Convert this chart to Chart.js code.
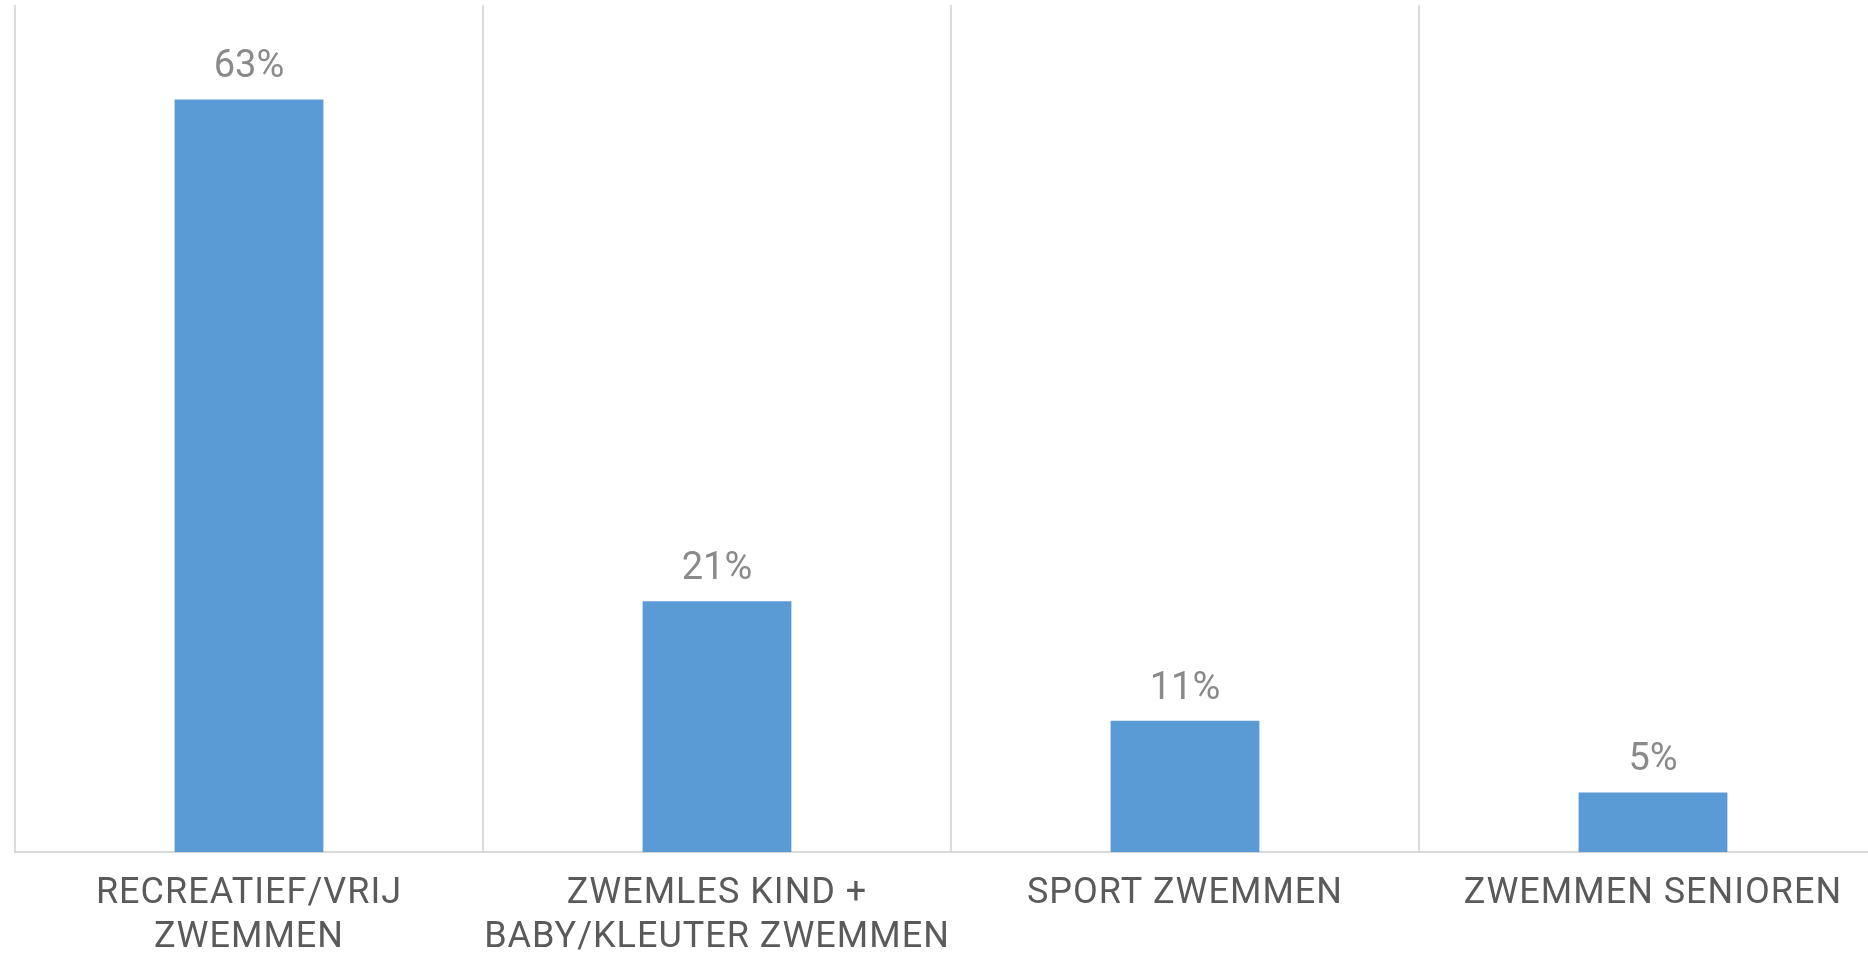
<!DOCTYPE html>
<html>
<head>
<meta charset="utf-8">
<script src="https://cdn.jsdelivr.net/npm/chart.js@4.4.1/dist/chart.umd.min.js"></script>
<style>
  html, body { margin: 0; padding: 0; background: #fff; overflow: hidden; }
  #grafica { display: block; }
</style>
</head>
<body>
<canvas id="grafica" width="1887" height="980"></canvas>
<script>
// categorias (cada una en dos lineas como en el original)
const categorias = [
    ["RECREATIEF/VRIJ", "ZWEMMEN"],
    ["ZWEMLES KIND +", "BABY/KLEUTER ZWEMMEN"],
    ["SPORT ZWEMMEN"],
    ["ZWEMMEN SENIOREN"]
];
const valores = [63, 21, 11, 5]; // porcentajes
const etiquetasValor = ["63%", "21%", "11%", "5%"];

const fuente = "Roboto, 'Liberation Sans', sans-serif";

document.addEventListener("DOMContentLoaded", function(event) {
    Grafico();
});

//----------------------------------------------------------------------------
function Grafico(){
const ctz = document.getElementById('grafica');

const espaciado = {
    id: 'espaciado_letras',
    beforeUpdate: (chart) => { chart.ctx.letterSpacing = '1px'; },
    beforeDraw: (chart) => {
        const ctx = chart.ctx;
        ctx.letterSpacing = '1px';
        ctx.save();
        ctx.globalCompositeOperation = 'destination-over';
        ctx.fillStyle = 'white';
        ctx.fillRect(0, 0, chart.width, chart.height);
        ctx.restore();
    }
};

const etiquetas = {
    id: 'etiquetas_valor',
    afterDatasetsDraw: (chart) => {
        const ctx = chart.ctx;
        const meta = chart.getDatasetMeta(0);
        ctx.save();
        ctx.letterSpacing = '0px';
        ctx.font = "38px " + fuente;
        ctx.fillStyle = '#8a8a8a';
        ctx.textAlign = 'center';
        ctx.textBaseline = 'alphabetic';
        meta.data.forEach((bar, i) => {
            ctx.fillText(etiquetasValor[i], bar.x, bar.y - 22);
        });
        ctx.restore();
    }
};

const myChart = new Chart(ctz, {
    type: 'bar',
    data: {
        labels: categorias,
        datasets: [{
            data: valores,
            backgroundColor: '#5B9BD5',
            borderWidth: 0,
            categoryPercentage: 1,
            barPercentage: 0.318
        }]
    },
    options: {
        responsive: false,
        animation: false,
        devicePixelRatio: 1,
        layout: { padding: { left: 15, top: 5, right: 0, bottom: 0 } },
        plugins: {
            legend: { display: false },
            tooltip: { enabled: false }
        },
        scales: {
            x: {
                grid: {
                    color: '#dcdcdc',
                    lineWidth: 2,
                    drawTicks: false
                },
                border: { color: '#d9d9d9', width: 2 },
                ticks: {
                    color: '#5a5a5a',
                    font: { family: fuente, size: 36, lineHeight: 1.22 },
                    padding: 20,
                    maxRotation: 0,
                    autoSkip: false
                }
            },
            y: {
                display: false,
                min: 0,
                max: 70.9
            }
        }
    },
    plugins: [espaciado, etiquetas]
});
};
//----------------------------------------------------------------------------
</script>
</body>
</html>
